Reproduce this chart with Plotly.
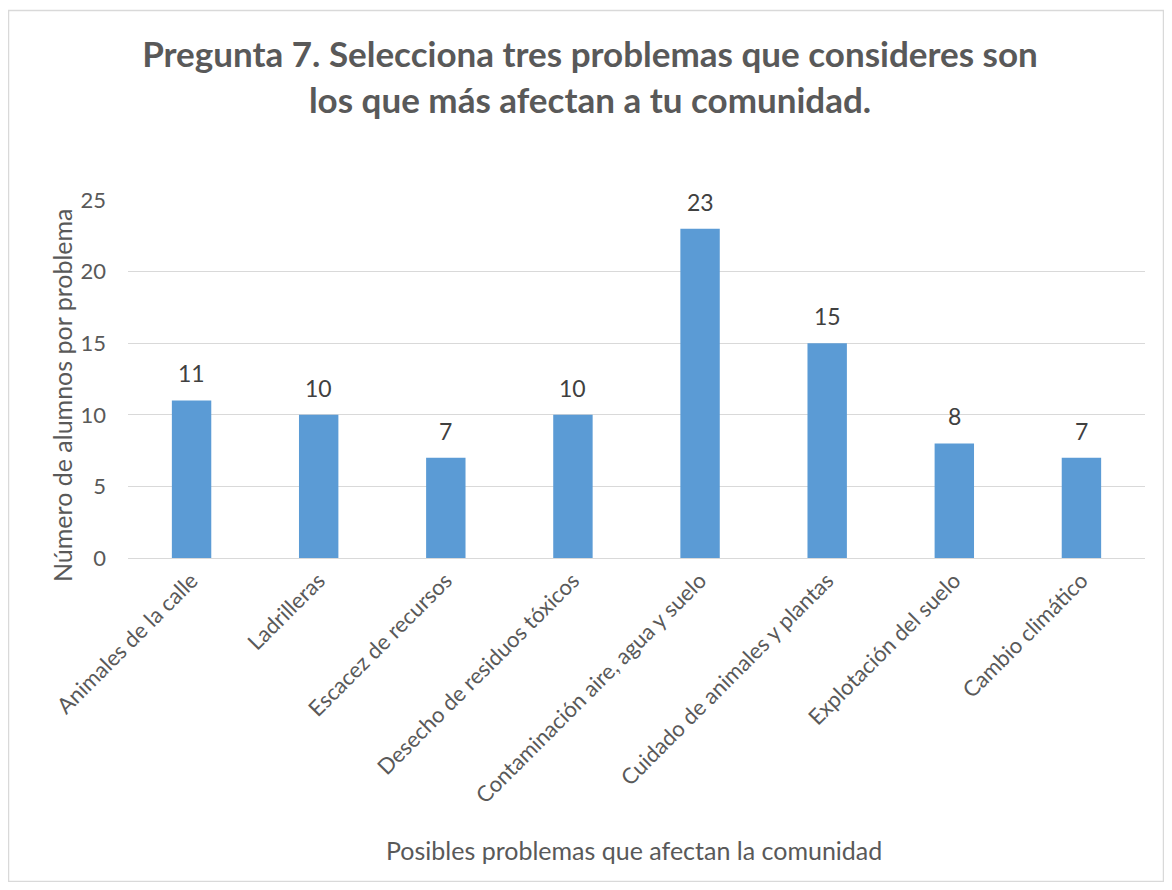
import plotly.graph_objects as go

categories = [
    "Animales de la calle",
    "Ladrilleras",
    "Escacez de recursos",
    "Desecho de residuos tóxicos",
    "Contaminación aire, agua y suelo",
    "Cuidado de animales y plantas",
    "Explotación del suelo",
    "Cambio climático",
]
values = [11, 10, 7, 10, 23, 15, 8, 7]
y_ticks = [0, 5, 10, 15, 20, 25]

title_text = "Pregunta 7. Selecciona tres problemas que consideres son<br>los que más afectan a tu comunidad."
x_title = "Posibles problemas que afectan la comunidad"
y_title = "Número de alumnos por problema"

FONT = "Lato"
OFF = 8  # page body margin
W, H = 1156, 874
L, R, T, B = 128 - OFF, 1145 - OFF, 200 - OFF, 558 - OFF
pw, ph = R - L, B - T

def px_x(p):
    return (p - OFF - L) / pw

def px_y(p):
    return (B - (p - OFF)) / ph

fig = go.Figure()
fig.add_trace(go.Bar(
    x=categories, y=values, marker=dict(color="#5b9bd5", line=dict(width=0)),
    width=0.31, hoverinfo="x+y",
))

annotations = []
for c, v in zip(categories, values):
    annotations.append(dict(x=c, y=v, xref="x", yref="y", text=str(v), showarrow=False,
                            yanchor="bottom", yshift=11,
                            font=dict(family=FONT, size=23, color="#404040")))
annotations.append(dict(x=px_x(634), y=px_y(850), xref="paper", yref="paper", text=x_title,
                        showarrow=False, xanchor="center", yanchor="middle",
                        font=dict(family=FONT, size=25, color="#595959")))
annotations.append(dict(x=px_x(62), y=px_y(395), xref="paper", yref="paper", text=y_title,
                        showarrow=False, textangle=-90, xanchor="center", yanchor="middle",
                        font=dict(family=FONT, size=25, color="#595959")))

fig.update_layout(
    width=W, height=H,
    margin=dict(l=L, r=W - R, t=T, b=H - B, autoexpand=False),
    paper_bgcolor="white", plot_bgcolor="white",
    showlegend=False,
    title=dict(text=title_text, x=(590 - OFF) / W, xanchor="center", y=1 - (67 - OFF) / H,
               yanchor="middle",
               font=dict(family=FONT, size=35, color="#595959", weight="bold")),
    font=dict(family=FONT, color="#595959"),
    annotations=annotations,
    shapes=[dict(type="rect", xref="paper", yref="paper",
                 x0=px_x(8.5), x1=px_x(1163.5), y0=px_y(881.5), y1=px_y(10.5),
                 line=dict(color="#d9d9d9", width=1.5), layer="below")],
    xaxis=dict(tickangle=-45, tickfont=dict(family=FONT, size=22, color="#595959"),
               showgrid=False, showline=True, linecolor="#d9d9d9", linewidth=1,
               ticks="", automargin=False),
    yaxis=dict(range=[0, 25], tickvals=y_ticks, showgrid=True, gridcolor="#d9d9d9", gridwidth=1,
               zeroline=False, showline=False, ticks="", ticklabelstandoff=21,
               tickfont=dict(family=FONT, size=22, color="#595959"), automargin=False),
    bargap=0.69,
)

fig.write_html("out.html")
